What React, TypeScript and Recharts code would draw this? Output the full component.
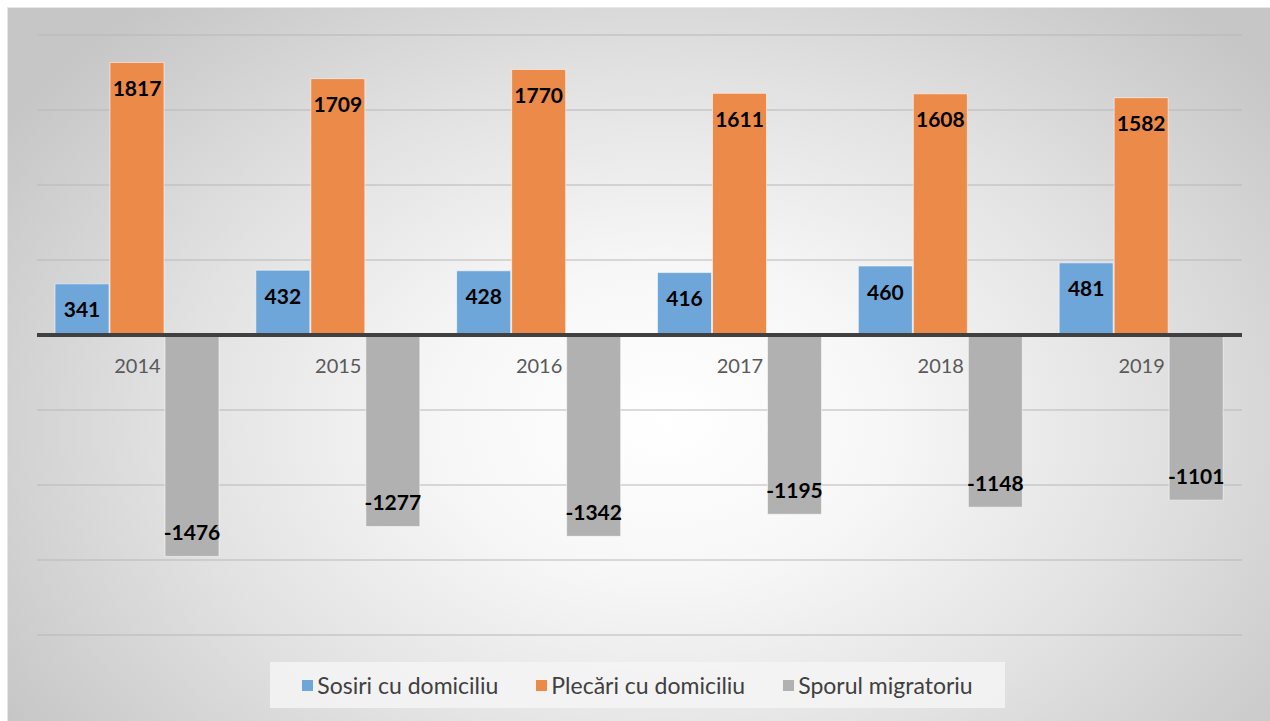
import React from 'react';
import { BarChart, Bar, XAxis, YAxis, CartesianGrid, ReferenceLine, LabelList } from 'recharts';

const years = ['2014', '2015', '2016', '2017', '2018', '2019'];
const sosiri = [341, 432, 428, 416, 460, 481];
const plecari = [1817, 1709, 1770, 1611, 1608, 1582];
const sporul = [-1476, -1277, -1342, -1195, -1148, -1101];
const yTicks = [-2000, -1500, -1000, -500, 0, 500, 1000, 1500, 2000];

const series = [
  { key: 'sosiri', name: 'Sosiri cu domiciliu', color: '#6FA6DA' },
  { key: 'plecari', name: 'Plecări cu domiciliu', color: '#EC8B49' },
  { key: 'sporul', name: 'Sporul migratoriu', color: '#B1B1B1' },
];

const data = years.map((y, i) => ({
  year: y,
  sosiri: sosiri[i],
  plecari: plecari[i],
  sporul: sporul[i],
}));

const W = 1270;
const H = 721;
const XAXIS_H = 30;
const M = { top: 35, right: 28, bottom: 86 - XAXIS_H, left: 37 };
const PLOT_H = H - M.top - M.bottom - XAXIS_H;
const ZERO_Y = M.top + PLOT_H / 2;
const FONT = 'Lato, Carlito, Calibri, sans-serif';

const YearTick = (props: any) => {
  const { x, payload } = props;
  return (
    <text
      x={x}
      y={ZERO_Y + 30}
      textAnchor="middle"
      dominantBaseline="central"
      fill="#595959"
      fontSize={20}
      fontFamily={FONT}
    >
      {payload.value}
    </text>
  );
};

const ValueLabel = (props: any) => {
  const x = Number(props.x);
  const y = Number(props.y);
  const width = Number(props.width);
  const height = Number(props.height);
  const value = Number(props.value);
  const top = Math.min(y, y + height);
  const bottom = Math.max(y, y + height);
  const cy = value >= 0 ? top + 25 : bottom - 25;
  return (
    <text
      x={x + width / 2}
      y={cy}
      textAnchor="middle"
      dominantBaseline="central"
      fontWeight="bold"
      fontSize={21}
      fill="#000"
      fontFamily={FONT}
    >
      {value}
    </text>
  );
};

export default function App() {
  return (
    <div style={{ position: 'absolute', left: 0, top: 0, width: W, height: H, background: '#ffffff', overflow: 'hidden' }}>
      <div
        style={{
          position: 'absolute',
          left: 7,
          top: 7,
          right: 0,
          bottom: 0,
          background:
            'radial-gradient(ellipse 62% 78% at 52% 58%, #ffffff 0%, #f7f7f7 28%, #e2e2e2 62%, #c6c6c6 100%)',
          borderTop: '1px solid #e6e6e6',
          borderLeft: '1px solid #e6e6e6',
        }}
      />
      <div style={{ position: 'absolute', left: 0, top: 0 }}>
        <BarChart width={W} height={H} data={data} margin={M} barGap={1} barSize={54}>
          <CartesianGrid vertical={false} stroke="#b8b8b8" strokeWidth={1.2} />
          <YAxis hide domain={[-2000, 2000]} ticks={yTicks} type="number" />
          <XAxis
            dataKey="year"
            axisLine={false}
            tickLine={false}
            height={XAXIS_H}
            tick={YearTick}
            interval={0}
          />
          {series.map((s) => (
            <Bar
              key={s.key}
              dataKey={s.key}
              name={s.name}
              fill={s.color}
              stroke="rgba(255,255,255,0.55)"
              strokeWidth={1}
              isAnimationActive={false}
            >
              <LabelList dataKey={s.key} content={<ValueLabel />} />
            </Bar>
          ))}
          <ReferenceLine y={0} stroke="#404040" strokeWidth={4} />
        </BarChart>
      </div>
      <div
        style={{
          position: 'absolute',
          left: 270,
          top: 662,
          width: 735,
          height: 46,
          background: 'rgba(245,245,245,0.85)',
          display: 'flex',
          alignItems: 'center',
          justifyContent: 'center',
          gap: 38,
          fontFamily: FONT,
          fontSize: 23,
          color: '#404040',
        }}
      >
        {series.map((s) => (
          <div key={s.key} style={{ display: 'flex', alignItems: 'center' }}>
            <span style={{ display: 'inline-block', width: 11, height: 11, background: s.color, marginRight: 4 }} />
            <span>{s.name}</span>
          </div>
        ))}
      </div>
    </div>
  );
}
